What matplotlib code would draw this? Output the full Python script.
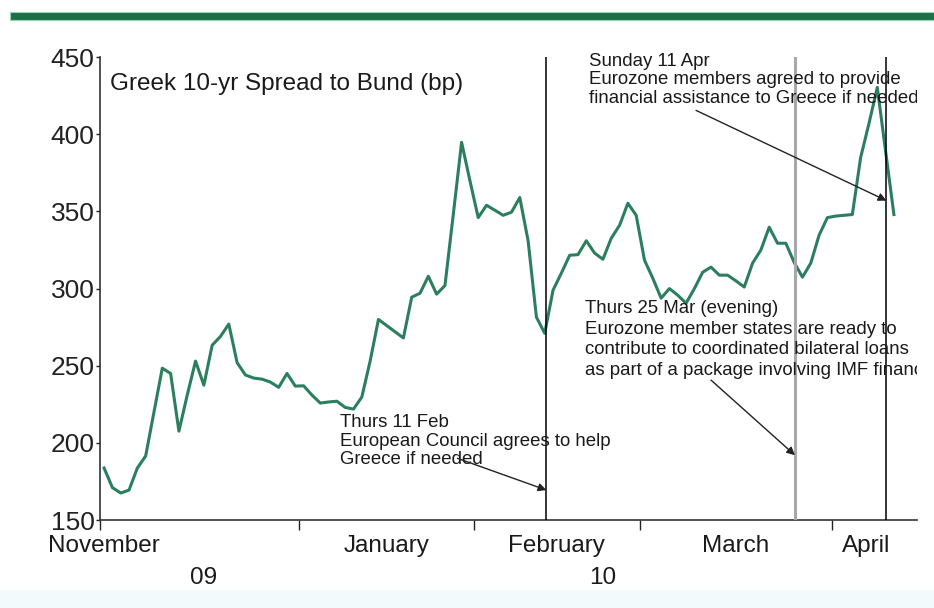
import matplotlib
matplotlib.use("Agg")
import matplotlib.pyplot as plt
from matplotlib.patches import Rectangle
import numpy as np

plt.rcParams['font.family'] = ['Liberation Sans', 'DejaVu Sans']

# Greek 10-yr spread to Bund (bp), one value per business day from end Nov 09
spread = [183.7, 171, 167.5, 169.4, 183.7, 191.5, 220, 248.4, 245, 207.6,
          231, 253, 237.4, 263.3, 269, 277, 252, 244, 242, 241.3,
          239.4, 236, 245, 236.8, 237, 231, 225.8, 226.5, 227, 223,
          221.9, 229.7, 253, 280, 276, 272, 268, 294.4, 297, 308,
          296.4, 302, 348, 394.8, 370, 346, 354, 350.8, 347.5, 349.5,
          359, 331, 281.5, 271, 299, 310, 321.6, 322, 331, 323,
          319, 332.6, 341, 355.3, 347.5, 318.4, 306.7, 293.8, 300, 295.7,
          290.5, 300, 310.6, 313.9, 308.7, 308.7, 305, 301, 316.5, 325,
          339.8, 329.4, 329.4, 317, 307.4, 316.5, 334.6, 346, 347, 347.5,
          348, 385, 407, 430.4, 389, 348]

month_ticks = [-0.5, 23.5, 44.5, 64.5, 87.5]
month_names = ['November', 'January', 'February', 'March', 'April']
month_label_x = [0, 34, 54.4, 76, 91.6]
year_names = ['09', '10']
year_label_x = [12, 60]

event_x = [53.2, 83.1, 94.1]
event_colors = ['black', '#a8a8a8', 'black']
event_widths = [1.1, 2.2, 1.1]
event_texts = [
    'Thurs 11 Feb\nEuropean Council agrees to help\nGreece if needed',
    'Thurs 25 Mar (evening)\nEurozone member states are ready to\n'
    'contribute to coordinated bilateral loans\nas part of a package involving IMF financing',
    'Sunday 11 Apr\nEurozone members agreed to provide\nfinancial assistance to Greece if needed',
]
text_xy = [(28.4, 219), (57.8, 292.5), (58.3, 453)]
text_spacing = [1.15, 1.28, 1.15]
arrow_tail = [(42.5, 190), (73.0, 240.7), (71.2, 415.5)]
arrow_head = [(53.2, 169.4), (83.1, 192), (94.1, 357)]

fig = plt.figure(figsize=(9.34, 6.08), dpi=100)
ax = fig.add_axes([0.107, 0.1447, 0.875, 0.7613])

days = np.arange(len(spread))
ax.plot(days, spread, color='#2b7f5f', lw=2.2, zorder=3)

for x, c, w in zip(event_x, event_colors, event_widths):
    ax.axvline(x, color=c, lw=w, zorder=4)

# notes are cut at the right edge of the plot, as in the original
clip = Rectangle((0, 0), 1, 1.2, transform=ax.transAxes)
for txt, (tx, ty), ls, tail, head in zip(event_texts, text_xy, text_spacing,
                                         arrow_tail, arrow_head):
    t = ax.text(tx, ty, txt, fontsize=13.4, va='top', ha='left', color='#1a1a1a',
                linespacing=ls, clip_on=True, zorder=5)
    t.set_clip_path(clip)
    ax.annotate('', xy=head, xytext=tail,
                arrowprops=dict(arrowstyle='-|>', color='#222222', lw=1.0,
                                mutation_scale=12, shrinkA=0, shrinkB=0),
                zorder=5)

ax.text(0.012, 0.965, 'Greek 10-yr Spread to Bund (bp)', transform=ax.transAxes,
        fontsize=17.5, va='top', ha='left', color='#1a1a1a')

ax.set_xlim(-0.5, 97.8)
ax.set_ylim(150, 450)
ax.set_yticks(np.arange(150, 451, 50))
ax.tick_params(axis='y', labelsize=19, length=3, width=1, colors='#222222', pad=1)
ax.set_xticks(month_ticks)
ax.set_xticklabels([])
ax.tick_params(axis='x', length=7, width=1, colors='#222222')

for sp in ['top', 'right']:
    ax.spines[sp].set_visible(False)
for sp in ['left', 'bottom']:
    ax.spines[sp].set_linewidth(1.2)
    ax.spines[sp].set_color('#333333')

trans = ax.get_xaxis_transform()
for name, x in zip(month_names, month_label_x):
    ax.text(x, -0.056, name, transform=trans, ha='center', va='center',
            fontsize=17.5, color='#1a1a1a', clip_on=False)
for name, x in zip(year_names, year_label_x):
    ax.text(x, -0.126, name, transform=trans, ha='center', va='center',
            fontsize=17.5, color='#1a1a1a', clip_on=False)

# green band across the top and pale strip at the bottom
fig.add_artist(Rectangle((0.011, 0.967), 0.989, 0.014, transform=fig.transFigure,
                         facecolor='#1f6e48', edgecolor='#8fd8b4', lw=0.8))
fig.add_artist(Rectangle((0.0, 0.0), 1.0, 0.03, transform=fig.transFigure,
                         facecolor='#f3fafc', edgecolor='none', zorder=-1))

fig.savefig('out.png', dpi=100)
